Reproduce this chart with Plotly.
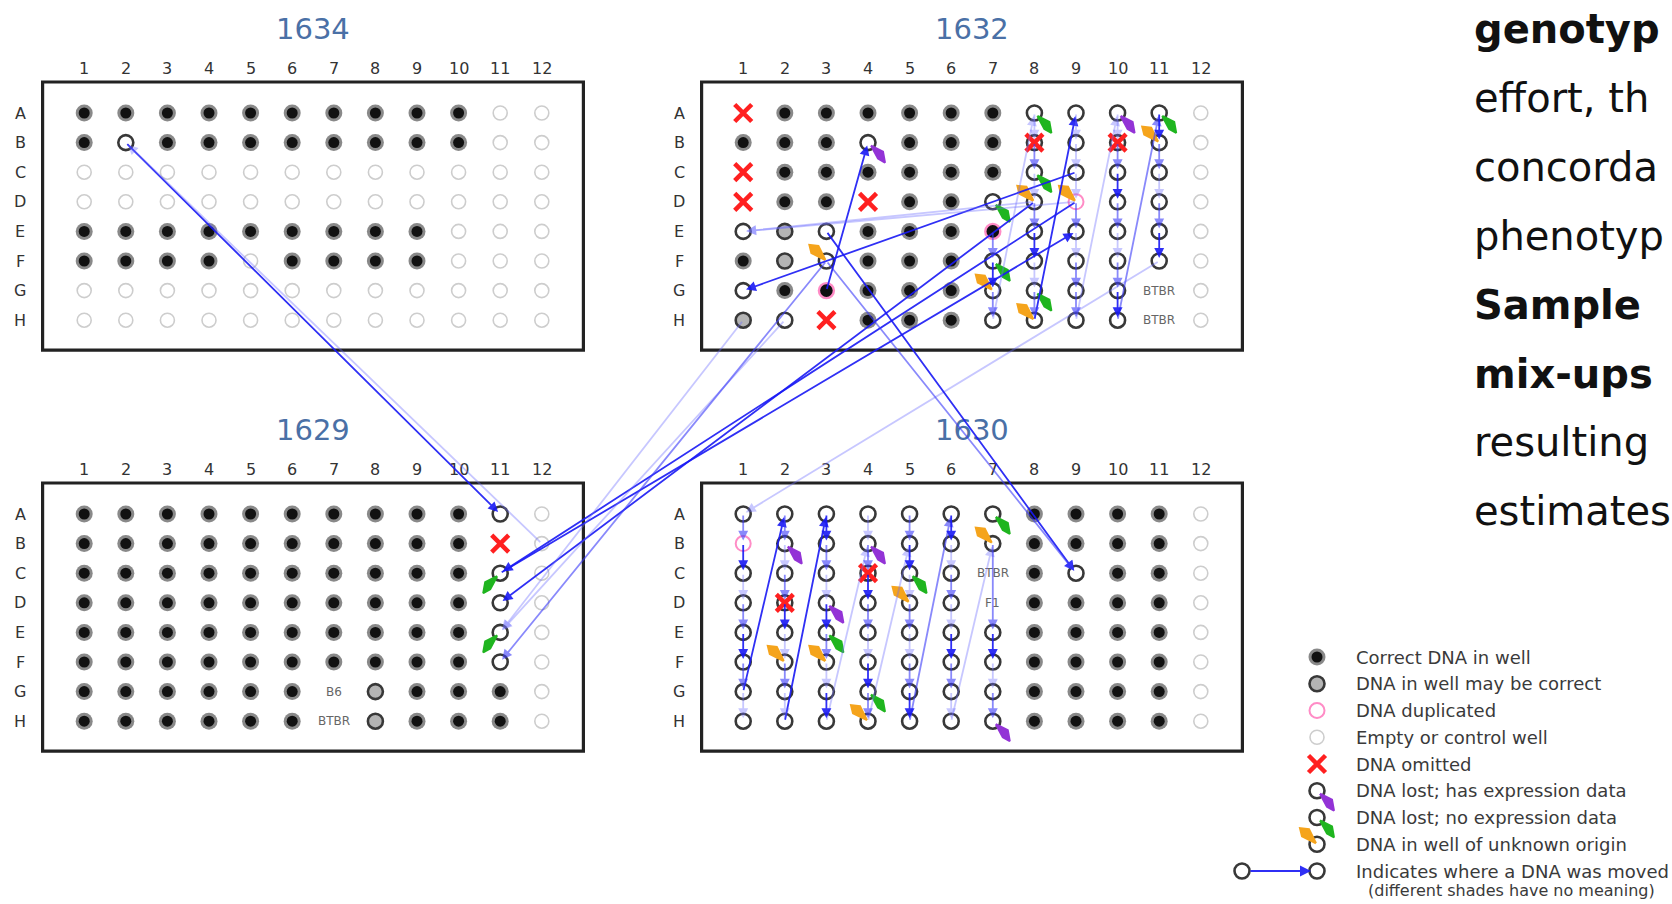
import plotly.graph_objects as go

# ---------------- data ----------------
ROWS = "ABCDEFGH"
COL_LABELS = [str(c) for c in range(1, 13)]
PLATE_NAMES = ["1634", "1632", "1629", "1630"]

# well state codes: C correct, M may be correct, O ring (moved/lost), E empty/control,
# D duplicated, K duplicated (correct), X omitted, Y omitted over ring, T text label
PLATE_1634 = [
    "CCCCCCCCCCEE",
    "COCCCCCCCCEE",
    "EEEEEEEEEEEE",
    "EEEEEEEEEEEE",
    "CCCCCCCCCEEE",
    "CCCCECCCCEEE",
    "EEEEEEEEEEEE",
    "EEEEEEEEEEEE",
]
PLATE_1632 = [
    "XCCCCCCOOOOE",
    "CCCOCCCYOYOE",
    "XCCCCCCOOOOE",
    "XCCXCCOODOOE",
    "OMOCCCKOOOOE",
    "CMOCCCOOOOOE",
    "OCKCCCOOOOTE",
    "MOXCCCOOOOTE",
]
PLATE_1629 = [
    "CCCCCCCCCCOE",
    "CCCCCCCCCCXE",
    "CCCCCCCCCCOE",
    "CCCCCCCCCCOE",
    "CCCCCCCCCCOE",
    "CCCCCCCCCCOE",
    "CCCCCCTMCCCE",
    "CCCCCCTMCCCE",
]
PLATE_1630 = [
    "OOOOOOOCCCCE",
    "DOOOOOOCCCCE",
    "OOOYOOTCOCCE",
    "OYOOOOTCCCCE",
    "OOOOOOOCCCCE",
    "OOOOOOOCCCCE",
    "OOOOOOOCCCCE",
    "OOOOOOOCCCCE",
]
GRIDS = {"1634": PLATE_1634, "1632": PLATE_1632, "1629": PLATE_1629, "1630": PLATE_1630}

WELL_TEXT = [
    ("1632", "G11", "BTBR"), ("1632", "H11", "BTBR"),
    ("1629", "G7", "B6"), ("1629", "H7", "BTBR"),
    ("1630", "C7", "BTBR"), ("1630", "D7", "F1"),
]

# tails: P = lost with expression data (purple), G = lost no expression (green),
# U = unknown origin (orange); direction se / sw / nw
TAILS = [
    ("1632", "A8", "G", "se"), ("1632", "A10", "P", "se"), ("1632", "A11", "G", "se"),
    ("1632", "B4", "P", "se"), ("1632", "B11", "U", "nw"), ("1632", "C8", "G", "se"),
    ("1632", "D7", "G", "se"), ("1632", "D8", "U", "nw"), ("1632", "D9", "U", "nw"),
    ("1632", "F3", "U", "nw"), ("1632", "F7", "G", "se"), ("1632", "G7", "U", "nw"),
    ("1632", "G8", "G", "se"), ("1632", "H8", "U", "nw"),
    ("1629", "C11", "G", "sw"), ("1629", "E11", "G", "sw"),
    ("1630", "A7", "G", "se"), ("1630", "B2", "P", "se"), ("1630", "B4", "P", "se"),
    ("1630", "B7", "U", "nw"), ("1630", "C5", "G", "se"), ("1630", "D3", "P", "se"),
    ("1630", "D5", "U", "nw"), ("1630", "E3", "G", "se"), ("1630", "F2", "U", "nw"),
    ("1630", "F3", "U", "nw"), ("1630", "G4", "G", "se"), ("1630", "H4", "U", "nw"),
    ("1630", "H7", "P", "se"),
]

# moves: (from plate, from well, to plate, to well, shade d/m/l)
MOVES = [
    ("1634", "B2", "1629", "A11", "d"),
    ("1629", "B12", "1634", "B2", "l"),
    ("1629", "C11", "1632", "E9", "d"),
    ("1632", "D9", "1629", "C11", "d"),
    ("1632", "D8", "1629", "D11", "d"),
    ("1632", "H2", "1629", "E11", "l"),
    ("1632", "H1", "1629", "E11", "l"),
    ("1632", "F3", "1629", "F11", "m"),
    ("1632", "F11", "1630", "A1", "l"),
    ("1632", "E3", "1630", "C9", "d"),
    ("1632", "F3", "1630", "C9", "m"),
    ("1632", "G3", "1632", "B4", "d"),
    ("1632", "C9", "1632", "G1", "d"),
    ("1632", "D9", "1632", "E1", "l"),
    ("1632", "D8", "1632", "E1", "l"),
    ("1632", "H7", "1632", "A8", "l"),
    ("1632", "H8", "1632", "A9", "d"),
    ("1632", "H9", "1632", "A10", "l"),
    ("1632", "H10", "1632", "A11", "m"),
    ("1630", "G1", "1630", "A2", "d"),
    ("1630", "H2", "1630", "A3", "d"),
    ("1630", "H3", "1630", "B4", "l"),
    ("1630", "H4", "1630", "B5", "l"),
    ("1630", "H5", "1630", "A6", "m"),
    ("1630", "H6", "1630", "B7", "l"),
]
# column chains of moves: (plate, column, rows visited, shade of each step)
CHAINS = [
    ("1632", 7, "EFGH", "mdm"),
    ("1632", 8, "ABCDEFGH", "lmlmdlm"),
    ("1632", 9, "ABCDEFGH", "lllmlmm"),
    ("1632", 10, "ABCDEFGH", "lmdmlmd"),
    ("1632", 11, "ABCDEF", "dmlmd"),
    ("1630", 1, "ABCDEFGH", "mdlmdml"),
    ("1630", 2, "ABCDEFGH", "mlmdlml"),
    ("1630", 3, "ABCDEFGH", "dmldmld"),
    ("1630", 4, "ABCDEFGH", "lmdmldm"),
    ("1630", 5, "ABCDEFGH", "mdlmlmd"),
    ("1630", 6, "ABCDEFGH", "dlmldml"),
    ("1630", 7, "BEFGH", "mdlm"),
]

LEGEND_ITEMS = [
    ("C", "Correct DNA in well"),
    ("M", "DNA in well may be correct"),
    ("D", "DNA duplicated"),
    ("E", "Empty or control well"),
    ("X", "DNA omitted"),
    ("P", "DNA lost; has expression data"),
    ("G", "DNA lost; no expression data"),
    ("U", "DNA in well of unknown origin"),
    ("A", "Indicates where a DNA was moved"),
]
LEGEND_NOTE = "(different shades have no meaning)"

# visible (cropped) fragments of the slide text at the right edge
SIDE_TEXT = [
    ("genotyp", True), ("effort, th", False), ("concorda", False),
    ("phenotyp", False), ("Sample", True), ("mix-ups", True),
    ("resulting", False), ("estimates", False),
]

# ---------------- layout geometry ----------------
W, H = 1672, 904
DX, DY = 41.6, 29.6
ORIGIN = {"1634": (84.2, 113.0), "1632": (743.2, 113.0),
          "1629": (84.2, 514.0), "1630": (743.2, 514.0)}


def well_xy(plate, well):
    r = ROWS.index(well[0])
    c = int(well[1:]) - 1
    x0, y0 = ORIGIN[plate]
    return x0 + c * DX, y0 + r * DY


fig = go.Figure()

# collect wells by code
pts = {k: [[], []] for k in "CMOEDKXY"}
for p in PLATE_NAMES:
    for r, rowstr in enumerate(GRIDS[p]):
        for c, code in enumerate(rowstr):
            if code in pts:
                x, y = well_xy(p, f"{ROWS[r]}{c+1}")
                pts[code][0].append(x)
                pts[code][1].append(y)

# legend symbol positions
LX, LY0, LDY = 1317.0, 657.0, 26.75
leg = {}
for i, (code, _) in enumerate(LEGEND_ITEMS):
    leg[code] = (LX, LY0 + i * LDY)
for code in "CMDE":
    pts[code][0].append(leg[code][0]); pts[code][1].append(leg[code][1])
for code in "PGU":
    pts["O"][0].append(leg[code][0]); pts["O"][1].append(leg[code][1])
pts["X"][0].append(leg["X"][0]); pts["X"][1].append(leg["X"][1])
pts["O"][0].extend([1242.0, LX]); pts["O"][1].extend([leg["A"][1], leg["A"][1]])


def sc(code, **marker):
    fig.add_trace(go.Scatter(x=pts[code][0], y=pts[code][1], mode="markers",
                             marker=marker, hoverinfo="skip", showlegend=False))


# empty
sc("E", symbol="circle-open", size=14, color="#cdcdcd", line=dict(width=1.6))
# correct: halo + core
fig.add_trace(go.Scatter(x=pts["C"][0], y=pts["C"][1], mode="markers",
                         marker=dict(size=17, color="rgba(20,20,20,0.5)", line=dict(width=0)),
                         hoverinfo="skip", showlegend=False))
fig.add_trace(go.Scatter(x=pts["C"][0], y=pts["C"][1], mode="markers",
                         marker=dict(size=11, color="#111", line=dict(width=0)),
                         hoverinfo="skip", showlegend=False))
# rings
ring_x = pts["O"][0] + pts["Y"][0]
ring_y = pts["O"][1] + pts["Y"][1]
fig.add_trace(go.Scatter(x=ring_x, y=ring_y, mode="markers",
                         marker=dict(size=15, color="rgba(255,255,255,0.9)",
                                     line=dict(width=2.6, color="#383838")),
                         hoverinfo="skip", showlegend=False))
sc("M", size=15, color="#b4b4b4", line=dict(width=2.6, color="#383838"))
sc("D", size=15, color="white", line=dict(width=2, color="#ff8cc6"))
sc("K", size=15, color="#111", line=dict(width=2.4, color="#ff8cc6"))

# tails (comet-like wedges)
TAIL_SHAPE = {
    "se": [(3, 3), (10, 16), (17, 20), (15, 9)],
    "sw": [(-3, 3), (-10, 16), (-17, 20), (-15, 9)],
    "nw": [(-1, -1), (-8, -15), (-17, -16), (-15, -8)],
}
TAIL_COLOR = {"P": "#9333d6", "G": "#1fb51f", "U": "#f5a41c"}
tail_polys = {k: [[], []] for k in TAIL_COLOR}
tail_items = [(well_xy(p, w), k, d) for p, w, k, d in TAILS]
tail_items += [(leg[k], k, "nw" if k == "U" else "se") for k in "PGU"]
for (cx, cy), k, d in tail_items:
    for ox, oy in TAIL_SHAPE[d] + [TAIL_SHAPE[d][0]]:
        tail_polys[k][0].append(cx + ox)
        tail_polys[k][1].append(cy + oy)
    tail_polys[k][0].append(None)
    tail_polys[k][1].append(None)
for k, (xs, ys) in tail_polys.items():
    fig.add_trace(go.Scatter(x=xs, y=ys, mode="lines", fill="toself",
                             fillcolor=TAIL_COLOR[k], line=dict(color=TAIL_COLOR[k], width=2),
                             hoverinfo="skip", showlegend=False))

# omitted crosses
sc("X", symbol="x-thin", size=17, line=dict(width=4.5, color="#ff2020"))
fig.add_trace(go.Scatter(x=pts["Y"][0], y=pts["Y"][1], mode="markers",
                         marker=dict(symbol="x-thin", size=17, line=dict(width=4.5, color="#ff2020")),
                         hoverinfo="skip", showlegend=False))

# ---------------- shapes & text ----------------
annotations = []
shapes = []
for p in PLATE_NAMES:
    x0, y0 = ORIGIN[p]
    shapes.append(dict(type="rect", xref="x", yref="y",
                       x0=x0 - DX, x1=x0 + 12 * DX, y0=y0 - 31, y1=y0 + 7 * DY + 30,
                       line=dict(color="#222", width=3.2), fillcolor="rgba(0,0,0,0)", layer="below"))
    annotations.append(dict(x=x0 + 5.5 * DX, y=y0 - 84, text=p, showarrow=False,
                            font=dict(family="DejaVu Sans", size=29, color="#4a70a6"),
                            xref="x", yref="y"))
    for c, lab in enumerate(COL_LABELS):
        annotations.append(dict(x=x0 + c * DX, y=y0 - 45, text=lab, showarrow=False,
                                font=dict(family="DejaVu Sans", size=16, color="#333"),
                                xref="x", yref="y"))
    for r, lab in enumerate(ROWS):
        annotations.append(dict(x=x0 - 64, y=y0 + r * DY, text=lab, showarrow=False,
                                font=dict(family="DejaVu Sans", size=16, color="#333"),
                                xref="x", yref="y"))

for p, w, t in WELL_TEXT:
    x, y = well_xy(p, w)
    annotations.append(dict(x=x, y=y, text=t, showarrow=False,
                            font=dict(family="DejaVu Sans", size=12, color="#666"),
                            xref="x", yref="y"))

SHADE = {"d": "rgba(25,25,245,0.9)", "m": "rgba(60,60,250,0.6)", "l": "rgba(110,110,255,0.38)"}

all_moves = list(MOVES)
for p, col, rows, shades in CHAINS:
    for i in range(len(rows) - 1):
        all_moves.append((p, f"{rows[i]}{col}", p, f"{rows[i+1]}{col}", shades[i]))

for sp, sw, dp, dw, s in all_moves:
    x1, y1 = well_xy(sp, sw)
    x2, y2 = well_xy(dp, dw)
    annotations.append(dict(x=x2, y=y2, ax=x1, ay=y1, xref="x", yref="y", axref="x", ayref="y",
                            showarrow=True, arrowhead=2, arrowsize=1.1, arrowwidth=1.8,
                            arrowcolor=SHADE[s], standoff=3, text=""))
# legend arrow
annotations.append(dict(x=LX, y=leg["A"][1], ax=1242.0, ay=leg["A"][1], xref="x", yref="y",
                        axref="x", ayref="y", showarrow=True, arrowhead=2, arrowsize=1.1,
                        arrowwidth=2, arrowcolor=SHADE["d"], standoff=6, startstandoff=7, text=""))

for i, (_, label) in enumerate(LEGEND_ITEMS):
    annotations.append(dict(x=1354, y=LY0 + i * LDY, text=label, showarrow=False,
                            xanchor="left", font=dict(family="DejaVu Sans", size=18, color="#3a3a3a"),
                            xref="x", yref="y"))
annotations.append(dict(x=1366, y=890, text=LEGEND_NOTE, showarrow=False, xanchor="left",
                        font=dict(family="DejaVu Sans", size=16, color="#3a3a3a"),
                        xref="x", yref="y"))

for i, (t, bold) in enumerate(SIDE_TEXT):
    annotations.append(dict(x=1472, y=29 + i * 68.9, text=f"<b>{t}</b>" if bold else t,
                            showarrow=False, xanchor="left",
                            font=dict(family="DejaVu Sans", size=40, color="#111"),
                            xref="x", yref="y"))

fig.update_layout(
    width=W, height=H, margin=dict(l=0, r=0, t=0, b=0),
    paper_bgcolor="white", plot_bgcolor="white",
    xaxis=dict(range=[0, W], visible=False, fixedrange=True),
    yaxis=dict(range=[H, 0], visible=False, fixedrange=True),
    shapes=shapes, annotations=annotations, showlegend=False,
)

fig.write_html("out.html", config={"displayModeBar": False, "staticPlot": True},
               post_script="document.body.style.margin='0';document.body.style.overflow='hidden';")
